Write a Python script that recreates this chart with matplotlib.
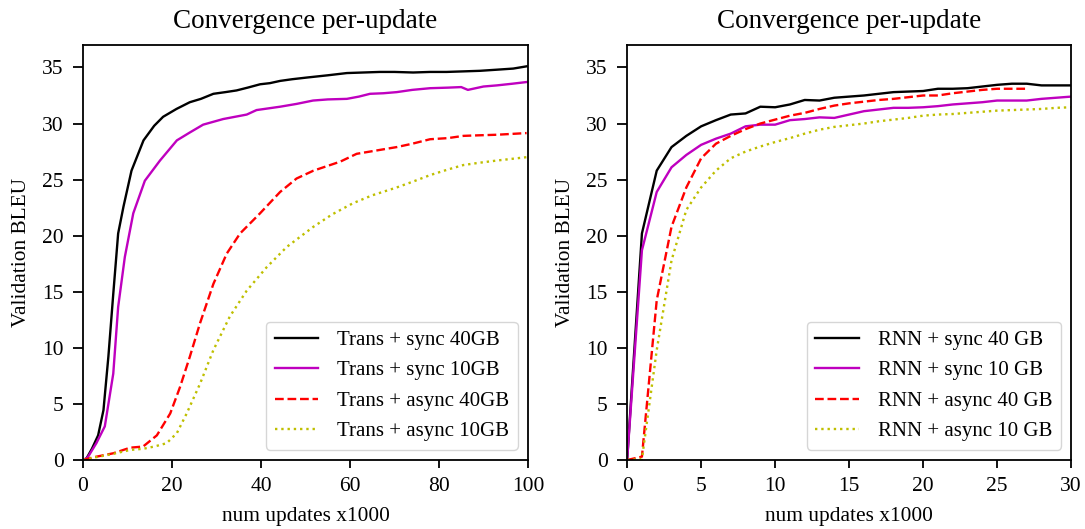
import matplotlib
matplotlib.use("Agg")
import matplotlib.pyplot as plt

plt.rcParams["font.family"] = ["Liberation Serif", "DejaVu Serif"]

# ==========================
# Transformer runs (updates x1000, BLEU)
# ==========================
trans_sync40_x = [0, 0.8, 2.0, 3.4, 4.6, 5.7, 6.8, 7.9, 9.1, 10.9, 13.6, 16.0, 18.0, 21.0, 24.0,
                  26.5, 29.3, 32.0, 34.5, 37.0, 39.8, 42.0, 44.3, 47.0, 50.3, 55.0, 59.3, 63.0,
                  66.7, 70.0, 74.2, 78.0, 81.7, 85.5, 89.2, 93.0, 96.7, 99.7]
trans_sync40_y = [0, 0.15, 1.0, 2.2, 4.45, 9.2, 14.8, 20.2, 22.6, 25.8, 28.5, 29.8, 30.6, 31.3, 31.9,
                  32.2, 32.65, 32.8, 32.95, 33.2, 33.5, 33.6, 33.8, 33.95, 34.1, 34.3, 34.5, 34.55,
                  34.6, 34.6, 34.55, 34.6, 34.6, 34.65, 34.7, 34.8, 34.9, 35.1]

trans_sync10_x = [0, 1.0, 3.0, 4.9, 6.8, 7.9, 9.4, 11.3, 13.9, 17.3, 21.1, 24.0, 27.0, 31.5, 36.8,
                  39.0, 44.3, 48.0, 51.7, 55.0, 59.3, 62.0, 64.5, 67.5, 70.5, 74.0, 78.0, 82.0,
                  85.0, 86.5, 90.0, 93.0, 96.5, 99.7]
trans_sync10_y = [0, 0.2, 1.5, 3.0, 7.7, 13.65, 18.1, 22.0, 24.9, 26.7, 28.5, 29.2, 29.9, 30.4, 30.8,
                  31.2, 31.5, 31.75, 32.05, 32.15, 32.2, 32.4, 32.65, 32.7, 32.8, 33.0, 33.15, 33.2,
                  33.25, 33.0, 33.3, 33.4, 33.55, 33.7]

trans_async40_x = [0, 2.3, 6.8, 10.6, 13.5, 16.6, 19.6, 21.8, 24.0, 26.3, 29.3, 32.3, 35.3, 39.8,
                   44.3, 48.0, 51.8, 57.8, 61.5, 66.0, 70.5, 74.0, 78.0, 82.0, 85.5, 89.0, 93.0,
                   99.7]
trans_async40_y = [0, 0.24, 0.6, 1.1, 1.2, 2.2, 4.15, 6.5, 9.2, 12.2, 15.7, 18.4, 20.2, 22.0,
                   23.9, 25.1, 25.8, 26.6, 27.3, 27.6, 27.9, 28.2, 28.6, 28.7, 28.9, 28.95, 29.0,
                   29.15]

trans_async10_x = [0, 2.3, 6.8, 10.6, 13.5, 16.0, 18.8, 21.1, 23.3, 26.3, 29.3, 33.0, 36.8, 41.3,
                   45.8, 51.8, 56.0, 60.7, 65.0, 70.5, 74.0, 78.0, 82.0, 85.5, 89.0, 93.0, 99.7]
trans_async10_y = [0, 0.2, 0.55, 0.9, 1.0, 1.2, 1.5, 2.4, 4.15, 6.8, 9.8, 12.8, 15.1, 17.2,
                   19.0, 20.8, 21.9, 22.9, 23.6, 24.3, 24.8, 25.4, 25.9, 26.3, 26.5, 26.7, 27.0]

# ==========================
# RNN runs (updates x1000, BLEU)
# ==========================
rnn_x = [0, 1, 2, 3, 4, 5, 6, 7, 8, 9, 10, 11, 12, 13, 14, 15, 16, 17, 18, 19, 20,
         21, 22, 23, 24, 25, 26, 27, 28, 29, 30]
rnn_sync40_y = [0, 20.2, 25.8, 27.9, 28.9, 29.75, 30.3, 30.8, 30.9, 31.5, 31.45, 31.7, 32.1,
                32.05, 32.3, 32.4, 32.5, 32.65, 32.8, 32.85, 32.9, 33.1, 33.1, 33.15, 33.3,
                33.45, 33.55, 33.55, 33.4, 33.4, 33.4]
rnn_sync10_y = [0, 18.7, 23.9, 26.1, 27.2, 28.1, 28.65, 29.1, 29.75, 29.9, 29.9, 30.3, 30.4,
                30.55, 30.5, 30.8, 31.1, 31.25, 31.4, 31.4, 31.45, 31.55, 31.7, 31.8, 31.9,
                32.05, 32.05, 32.05, 32.2, 32.3, 32.4]
rnn_async40_x = [0, 1, 2, 3, 4, 5, 6, 7, 8, 9, 10, 11, 12, 13, 14, 15, 16, 17, 18, 19, 20,
                 21, 22, 23, 24, 25, 26, 27]
rnn_async40_y = [0, 0.3, 14.25, 20.8, 24.3, 26.9, 28.2, 28.9, 29.5, 30.0, 30.35, 30.7, 30.95,
                 31.3, 31.6, 31.8, 31.95, 32.1, 32.2, 32.35, 32.5, 32.5, 32.7, 32.85, 33.0,
                 33.1, 33.1, 33.1]
rnn_async10_y = [0, 0.1, 9.8, 17.8, 22.3, 24.3, 25.8, 26.9, 27.5, 27.95, 28.35, 28.7, 29.1,
                 29.45, 29.7, 29.85, 30.0, 30.2, 30.35, 30.5, 30.7, 30.8, 30.85, 30.95, 31.05,
                 31.15, 31.2, 31.25, 31.3, 31.4, 31.45]

trans_labels = ["Trans + sync 40GB", "Trans + sync 10GB", "Trans + async 40GB", "Trans + async 10GB"]
rnn_labels = ["RNN + sync 40 GB", "RNN + sync 10 GB", "RNN + async 40 GB", "RNN + async 10 GB"]

styles = [
    dict(color="k", linestyle="-"),
    dict(color="m", linestyle="-"),
    dict(color="r", linestyle="--"),
    dict(color="y", linestyle=":"),
]

fig = plt.figure(figsize=(10.85, 5.29), dpi=100)
ax1 = fig.add_axes([0.0765, 0.1304, 0.4101, 0.7845])
ax2 = fig.add_axes([0.578, 0.1304, 0.4092, 0.7845])

trans_series = [
    (trans_sync40_x, trans_sync40_y),
    (trans_sync10_x, trans_sync10_y),
    (trans_async40_x, trans_async40_y),
    (trans_async10_x, trans_async10_y),
]
for (xs, ys), label, st in zip(trans_series, trans_labels, styles):
    ax1.plot(xs, ys, label=label, linewidth=1.7, **st)

rnn_series = [
    (rnn_x, rnn_sync40_y),
    (rnn_x, rnn_sync10_y),
    (rnn_async40_x, rnn_async40_y),
    (rnn_x, rnn_async10_y),
]
for (xs, ys), label, st in zip(rnn_series, rnn_labels, styles):
    ax2.plot(xs, ys, label=label, linewidth=1.7, **st)

for ax, xmax in [(ax1, 100), (ax2, 30)]:
    ax.set_xlim(0, xmax)
    ax.set_ylim(0, 37)
    ax.set_yticks([0, 5, 10, 15, 20, 25, 30, 35])
    ax.set_title("Convergence per-update", fontsize=19.5, pad=12)
    ax.set_xlabel("num updates x1000", fontsize=15.4, labelpad=8)
    ax.set_ylabel("Validation BLEU", fontsize=15.4, labelpad=8)
    ax.tick_params(axis="y", direction="out", length=7, width=1.3, pad=7, labelsize=15.5,
                   right=False)
    ax.tick_params(axis="x", direction="out", length=5.5, width=1.3, pad=7, labelsize=15.5,
                   top=False)
    for sp in ax.spines.values():
        sp.set_linewidth(1.3)
    ax.legend(loc="lower right", fontsize=15, handlelength=2.1, handletextpad=0.9,
              borderpad=0.4, labelspacing=0.52, borderaxespad=0.5)

plt.savefig("out.png", dpi=100)
plt.close()
